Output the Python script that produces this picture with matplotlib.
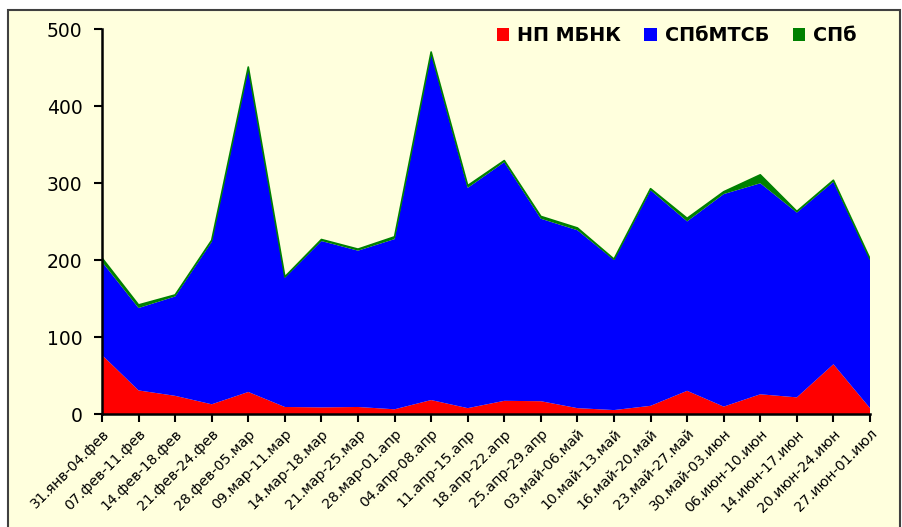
import matplotlib.pyplot as plt
from matplotlib.patches import Rectangle, Patch
import numpy as np

# Data
weeks = ["31.янв-04.фев", "07.фев-11.фев", "14.фев-18.фев", "21.фев-24.фев",
         "28.фев-05.мар", "09.мар-11.мар", "14.мар-18.мар", "21.мар-25.мар",
         "28.мар-01.апр", "04.апр-08.апр", "11.апр-15.апр", "18.апр-22.апр",
         "25.апр-29.апр", "03.май-06.май", "10.май-13.май", "16.май-20.май",
         "23.май-27.май", "30.май-03.июн", "06.июн-10.июн", "14.июн-17.июн",
         "20.июн-24.июн", "27.июн-01.июл"]
np_mbnk = [77, 31, 24, 13, 29, 9.5, 9, 9.5, 6.5, 18.5, 8, 17.5,
           17, 8, 5.5, 11, 30.5, 10, 26, 22, 65, 8]
spb_mtsb = [121, 107, 129, 211, 420, 168, 216, 203, 221, 450, 286, 310,
            237, 231, 195, 280, 220, 276, 274, 240, 237, 193]
spb = [5, 4, 2, 2, 2, 1, 2, 2, 3, 2, 3, 2,
       3, 3, 1, 2, 4, 3, 11, 1.5, 2, 1]

bg = '#FFFFDD'

fig = plt.figure(figsize=(9.03, 5.27), dpi=100)
fig.patch.set_facecolor('white')

# outer frame
fig.patches.append(Rectangle((8 / 903, -0.05), 892 / 903, 1.05 - 10 / 527,
                             transform=fig.transFigure, facecolor=bg,
                             edgecolor='#404040', linewidth=1.5, zorder=-10))

ax = fig.add_axes([102 / 903, (527 - 414.3) / 527, (870 - 102) / 903, 385 / 527])
ax.set_zorder(5)
ax.patch.set_alpha(0)

x = np.arange(len(weeks))
ax.stackplot(x, np_mbnk, spb_mtsb, spb,
             colors=['#FF0000', '#0000FF', '#008000'],
             edgecolor='none', linewidth=0)
# thin line on top of the green band
total = np.array(np_mbnk) + np.array(spb_mtsb) + np.array(spb)
ax.plot(x, total, color='#008000', linewidth=1.2)

ax.set_xlim(0, len(weeks) - 1)
ax.set_ylim(0, 500)
ax.set_yticks([0, 100, 200, 300, 400, 500])
ax.set_xticks(x)
ax.set_xticklabels(weeks, rotation=45, ha='right', rotation_mode='anchor',
                   fontsize=10.2)
ax.tick_params(axis='y', labelsize=13.5, length=6, width=1.5, direction='out', pad=8)
ax.tick_params(axis='x', length=6, width=1.5, direction='out', pad=3)

for side in ['top', 'right']:
    ax.spines[side].set_visible(False)
for side in ['left', 'bottom']:
    ax.spines[side].set_linewidth(1.8)
    ax.spines[side].set_color('black')

# Legend
handles = [Patch(facecolor='#FF0000', label='НП МБНК'),
           Patch(facecolor='#0000FF', label='СПбМТСБ'),
           Patch(facecolor='#008000', label='СПб')]
ax.legend(handles=handles, loc='upper right', ncol=3, frameon=False,
          prop={'weight': 'bold', 'size': 13.8}, handlelength=0.65,
          handleheight=0.65, handletextpad=0.4, columnspacing=1.25,
          bbox_to_anchor=(1.0, 1.043), borderaxespad=0.3)

plt.savefig('out.png', dpi=100, facecolor='white')
